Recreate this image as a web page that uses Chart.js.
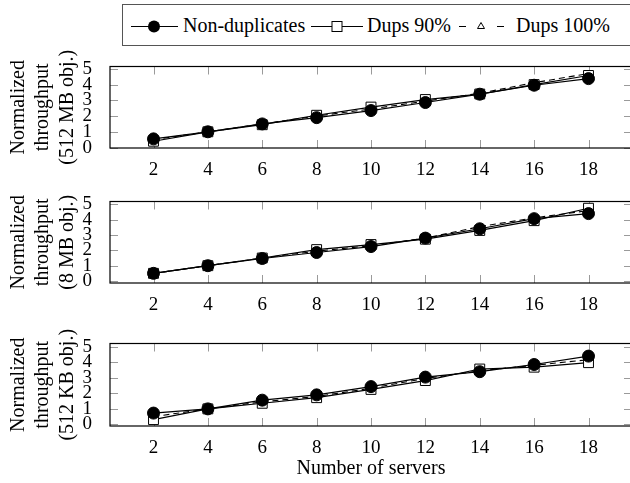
<!DOCTYPE html>
<html>
<head>
<meta charset="utf-8">
<script src="https://cdn.jsdelivr.net/npm/chart.js@4"></script>
<style>
html,body{margin:0;padding:0;background:#fff;overflow:hidden;}
#wrap{position:relative;width:640px;height:483px;overflow:hidden;font-family:"Liberation Serif",serif;}
canvas.panel{position:absolute;left:0;}
#legend{position:absolute;left:122px;top:4px;width:530px;height:42px;border:1.3px solid #555;box-sizing:border-box;}
#legend svg{position:absolute;left:0;top:0;}
#legend span{position:absolute;top:8px;font-size:20px;line-height:24px;color:#000;white-space:nowrap;}
</style>
</head>
<body>
<div id="wrap">
  <div id="legend">
    <svg width="530" height="42" xmlns="http://www.w3.org/2000/svg">
      <line x1="8" y1="21.5" x2="55" y2="21.5" stroke="#000" stroke-width="1.2"/>
      <circle cx="31" cy="21.5" r="6" fill="#000"/>
      <line x1="188" y1="21.5" x2="240" y2="21.5" stroke="#000" stroke-width="1.2"/>
      <rect x="209" y="16.5" width="10" height="10" fill="#fff" stroke="#000" stroke-width="1"/>
      <line x1="336" y1="21.5" x2="381" y2="21.5" stroke="#000" stroke-width="1.2" stroke-dasharray="7,31"/>
      <polygon points="358,17.5 361.5,23.5 354.5,23.5" fill="#fff" stroke="#000" stroke-width="1"/>
    </svg>
    <span style="left:60px">Non-duplicates</span>
    <span style="left:244px">Dups 90%</span>
    <span style="left:393px">Dups 100%</span>
  </div>
  <canvas id="c1" class="panel" width="640" height="130" style="top:47px"></canvas>
  <canvas id="c2" class="panel" width="640" height="130" style="top:182px"></canvas>
  <canvas id="c3" class="panel" width="640" height="159" style="top:324px"></canvas>
</div>
<script>
// ---- data ----
const servers = [2, 4, 6, 8, 10, 12, 14, 16, 18];
const xTickValues = [2, 4, 6, 8, 10, 12, 14, 16, 18];
const yTickValues = [0, 1, 2, 3, 4, 5];
const seriesNames = ["Non-duplicates", "Dups 90%", "Dups 100%"];

const nonDup512MB = [0.55, 1.0, 1.5, 1.9, 2.35, 2.86, 3.39, 3.96, 4.38];
const dups90_512MB = [0.4, 1.0, 1.45, 2.05, 2.57, 3.05, 3.4, 4.0, 4.58];
const dups100_512MB = [0.5, 1.0, 1.5, 2.0, 2.45, 2.95, 3.45, 4.12, 4.7];

const nonDup8MB = [0.5, 1.0, 1.47, 1.86, 2.25, 2.8, 3.41, 4.07, 4.4];
const dups90_8MB = [0.5, 1.0, 1.5, 2.05, 2.38, 2.73, 3.3, 3.94, 4.75];
const dups100_8MB = [0.5, 1.0, 1.5, 1.95, 2.3, 2.8, 3.55, 4.12, 4.6];

const nonDup512KB = [0.73, 1.0, 1.56, 1.9, 2.43, 3.04, 3.39, 3.85, 4.39];
const dups90_512KB = [0.31, 1.0, 1.36, 1.72, 2.25, 2.82, 3.56, 3.68, 3.97];
const dups100_512KB = [0.5, 1.0, 1.45, 1.8, 2.33, 2.95, 3.45, 3.8, 4.16];

const yTitle512MB = ["Normalized", "throughput", "(512 MB obj.)"];
const yTitle8MB = ["Normalized", "throughput", "(8 MB obj.)"];
const yTitle512KB = ["Normalized", "throughput", "(512 KB obj.)"];
const xTitle = "Number of servers";

// ---- drawing ----
const FONT = "'Liberation Serif', 'Times New Roman', serif";

const framePlugin = {
  id: 'frame',
  beforeDatasetsDraw(chart) {
    const {ctx, chartArea: a, scales: {x, y}} = chart;
    ctx.save();
    ctx.strokeStyle = '#9a9a9a';
    ctx.lineWidth = 1;
    const tl = 8;
    ctx.beginPath();
    xTickValues.forEach(v => {
      const px = Math.round(x.getPixelForValue(v)) + 0.5;
      ctx.moveTo(px, a.bottom); ctx.lineTo(px, a.bottom - tl);
      ctx.moveTo(px, a.top); ctx.lineTo(px, a.top + tl);
    });
    yTickValues.forEach(v => {
      const py = Math.round(y.getPixelForValue(v)) + 0.5;
      ctx.moveTo(a.left, py); ctx.lineTo(a.left + tl, py);
      ctx.moveTo(a.right, py); ctx.lineTo(a.right - tl, py);
    });
    ctx.stroke();
    ctx.restore();
  },
  afterDraw(chart) {
    const {ctx, chartArea: a} = chart;
    ctx.save();
    ctx.strokeStyle = '#000';
    ctx.lineWidth = 1.2;
    ctx.strokeRect(a.left, a.top, a.right - a.left, a.bottom - a.top);
    ctx.restore();
  }
};

function makeChart(id, nd, d90, d100, yTitle, yMin, yMax, withXTitle, xHeight) {
  const ctx = document.getElementById(id);
  const pts = arr => servers.map((s, i) => ({x: s, y: arr[i]}));
  return new Chart(ctx, {
    type: 'line',
    data: {
      datasets: [
        {label: seriesNames[0], data: pts(nd), borderColor: '#000', borderWidth: 1.2,
         pointStyle: 'circle', pointRadius: 6, pointBackgroundColor: '#000', pointBorderColor: '#000',
         pointBorderWidth: 1, tension: 0, fill: false},
        {label: seriesNames[1], data: pts(d90), borderColor: '#000', borderWidth: 1.2,
         pointStyle: 'rect', pointRadius: 7, pointBackgroundColor: '#fff', pointBorderColor: '#000',
         pointBorderWidth: 1, tension: 0, fill: false},
        {label: seriesNames[2], data: pts(d100), borderColor: '#000', borderWidth: 1.1, borderDash: [6, 4],
         pointStyle: 'triangle', pointRadius: 3.5, pointBackgroundColor: '#fff', pointBorderColor: '#000',
         pointBorderWidth: 1, tension: 0, fill: false}
      ]
    },
    options: {
      responsive: false,
      animation: false,
      layout: {padding: {top: 10, right: 8, left: 0, bottom: 0}},
      plugins: {legend: {display: false}, tooltip: {enabled: false}},
      scales: {
        x: {
          type: 'linear', min: 0.4, max: 19.6,
          grid: {display: false}, border: {display: false},
          afterBuildTicks: s => { s.ticks = xTickValues.map(v => ({value: v})); },
          afterFit: s => { s.height = xHeight; },
          ticks: {color: '#000', font: {family: FONT, size: 19}, padding: 3, maxRotation: 0,
                  autoSkip: false, callback: v => String(v)},
          title: {display: withXTitle, text: xTitle, color: '#000',
                  font: {family: FONT, size: 20, lineHeight: 1.225}, padding: {top: 0, bottom: 2}}
        },
        y: {
          type: 'linear', min: yMin, max: yMax,
          grid: {display: false}, border: {display: false},
          afterBuildTicks: s => { s.ticks = yTickValues.map(v => ({value: v})); },
          afterFit: s => { s.width = 110; },
          ticks: {color: '#000', font: {family: FONT, size: 19, lineHeight: 1}, padding: 10,
                  autoSkip: false, callback: v => String(v)},
          title: {display: true, text: yTitle, color: '#000',
                  font: {family: FONT, size: 20, lineHeight: 1.225}, padding: {top: 6, bottom: 0}}
        }
      }
    },
    plugins: [framePlugin]
  });
}

makeChart('c1', nonDup512MB, dups90_512MB, dups100_512MB, yTitle512MB, -0.03, 5.15, false, 29);
makeChart('c2', nonDup8MB, dups90_8MB, dups100_8MB, yTitle8MB, -0.13, 5.19, false, 29);
makeChart('c3', nonDup512KB, dups90_512KB, dups100_512KB, yTitle512KB, -0.1, 5.2, true, 57);
</script>
</body>
</html>
